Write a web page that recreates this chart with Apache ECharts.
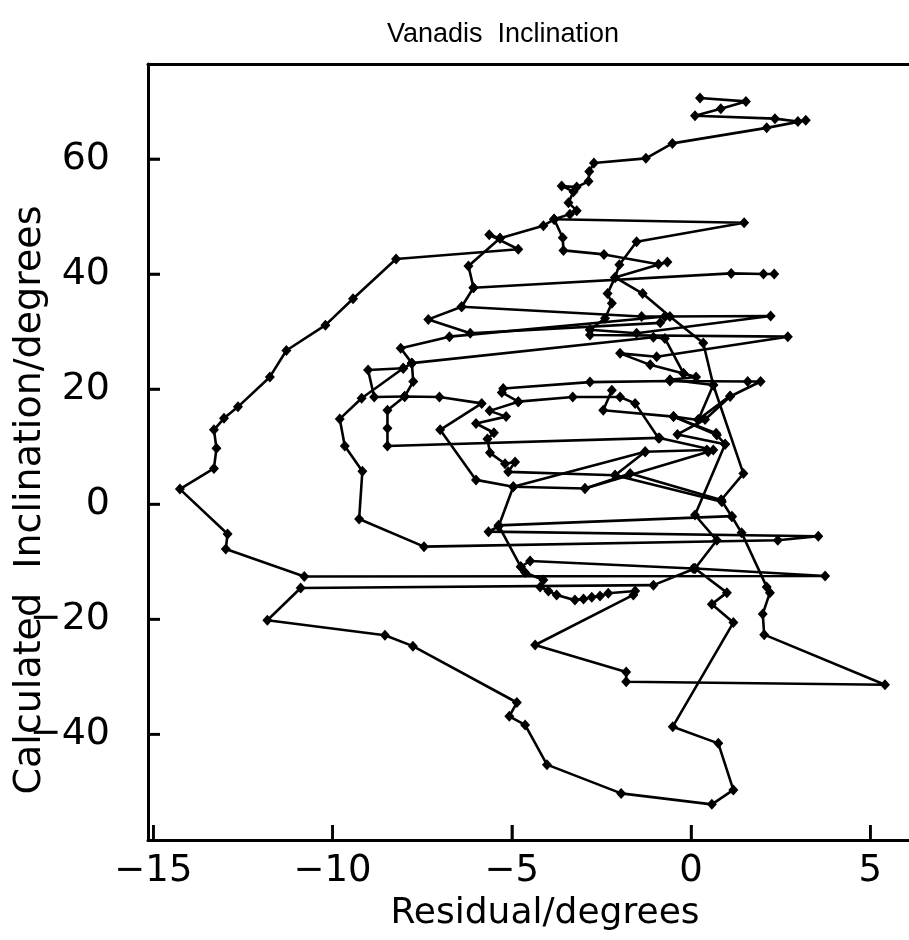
<!DOCTYPE html>
<html><head><meta charset="utf-8">
<script src="https://cdn.jsdelivr.net/npm/echarts@6/dist/echarts.min.js"></script>
<style>html,body{margin:0;padding:0;background:#fff}#c{width:909px;height:940px}</style>
</head><body><div id="c"></div>
<script>
const xTicks=[-15,-10,-5,0,5];
const yTicks=[-40,-20,0,20,40,60];

const chainTop=[[0.25,70.6],[1.53,70.0],[0.83,68.7],[0.11,67.5],[2.34,67.0],[2.98,66.5],[3.20,66.7],[2.11,65.4],[-0.52,62.7],[-1.26,60.1],[-2.71,59.3],[-2.84,57.8],[-2.86,56.1],[-3.19,55.1],[-3.61,55.3],[-3.28,54.3],[-3.42,52.4],[-3.19,51.0],[-3.38,50.4],[-3.82,49.5],[1.48,48.9],[-1.52,45.6],[-2.0,41.6],[-2.12,39.4],[-2.33,36.6],[-2.21,34.9],[-2.40,32.3],[-2.82,30.3],[-2.82,29.4],[2.70,29.1],[-0.96,25.6],[-1.98,26.2],[-1.14,24.2],[-0.21,22.7],[0.14,22.1],[-0.59,21.6],[0.62,20.7],[1.46,5.3],[0.84,0.7],[1.14,-2.2],[1.41,-5.0],[2.11,-14.4],[2.20,-15.4],[2.0,-19.1],[2.04,-22.7],[5.41,-31.4],[-1.81,-30.9],[-1.81,-29.2],[-4.35,-24.5],[-1.61,-15.8],[-1.56,-15.1],[-2.31,-15.5],[-2.54,-16.0],[-2.77,-16.2],[-3.0,-16.5],[-3.24,-16.7],[-3.75,-15.8],[-3.98,-15.1],[-4.21,-14.4],[-4.12,-13.2],[-4.63,-11.9],[-4.75,-10.9],[-4.49,-9.9],[0.06,-11.2]];
const chainArc=[[-4.75,-10.9],[-5.37,-3.7],[1.14,-2.1]];
const chainLeft=[[-3.82,49.5],[-4.12,48.4],[-5.33,46.2],[-5.63,46.8],[-4.82,44.3],[-8.23,42.6],[-9.43,35.7],[-10.2,31.1],[-11.29,26.7],[-11.75,22.1],[-12.64,16.9],[-13.03,14.9],[-13.31,12.9],[-13.24,9.7],[-13.31,6.2],[-14.26,2.6],[-12.93,-5.2],[-12.98,-7.8],[-10.79,-12.6],[3.74,-12.5],[0.11,-11.2],[-1.05,-14.1],[-10.89,-14.6],[-11.82,-20.2],[-8.54,-22.8],[-7.76,-24.7],[-4.86,-34.5],[-5.07,-36.9],[-4.63,-38.4],[-4.02,-45.3],[-1.95,-50.3],[0.58,-52.2],[1.18,-49.7],[0.76,-41.6],[-0.51,-38.7],[1.18,-20.6],[0.58,-17.4],[1.0,-15.4],[0.11,-11.2],[0.72,-6.3],[0.11,-1.9],[0.95,10.4],[-0.38,12.1],[0.39,14.7],[1.09,18.7],[1.94,21.3],[1.58,21.3],[-0.59,21.4],[-2.82,21.2],[-5.24,20.1],[-5.28,19.4],[-4.82,17.8],[-3.30,18.6],[-1.98,18.6],[-1.56,17.5],[-0.91,11.5],[-8.47,10.1],[-8.47,13.2],[-8.47,16.3],[-7.99,18.7],[-7.02,18.6],[-5.84,17.5],[-7.0,12.9],[-6.0,4.2],[-4.96,3.0],[-2.96,2.7],[0.48,9.1],[0.62,9.4],[-0.88,11.5]];
const chainMid=[[-3.82,49.5],[-3.58,46.3],[-3.56,44.1],[-2.43,43.4],[-0.91,41.7],[-0.66,42.1],[-2.12,39.4],[-1.35,36.6],[-0.59,32.6],[0.34,28.0],[0.62,20.7],[0.20,14.6],[-0.49,15.2],[0.72,12.0],[0.95,10.4]];
const chainH40=[[-5.33,46.2],[-6.21,41.4],[-6.07,37.6],[1.12,40.1],[2.02,40.0],[2.32,40.0]];
const chainH33=[[-6.07,37.6],[-6.40,34.3],[-1.38,32.6],[-0.73,32.6],[2.22,32.7],[-1.52,29.7],[-2.82,30.3]];
const chainF=[[-6.40,34.3],[-7.33,32.1],[-6.16,29.7],[-0.86,31.5]];
const chainG=[[-0.73,32.6],[-6.74,29.1],[-8.10,27.1],[-7.79,24.5],[-1.05,29.0],[-0.73,28.8],[-0.21,22.7]];
const chainH=[[-7.79,24.5],[-8.03,23.6],[-9.01,23.3],[-8.84,18.6],[-7.99,18.7]];
const chainH2=[[-7.79,24.5],[-7.75,21.3],[-7.99,18.7]];
const chainI=[[-8.03,23.6],[-9.19,18.4],[-9.80,14.8],[-9.66,10.1],[-9.17,5.7],[-9.26,-2.6],[-7.45,-7.4],[2.42,-6.3],[3.55,-5.6],[-5.65,-4.8],[-5.37,-3.9],[-4.96,3.0],[-1.28,9.1]];
const chainJ=[[-4.82,17.8],[-5.62,16.2],[-5.16,15.2],[-6.0,14.0],[-5.50,12.4],[-5.68,11.3],[-5.61,8.9],[-5.19,7.0],[-4.91,7.3],[-5.10,5.6],[-2.12,5.0],[0.86,0.4]];
const chainL=[[-2.21,19.8],[-2.45,16.3],[-0.49,15.2],[0.70,12.3]];
const chainM=[[1.09,18.8],[0.20,14.7]];
const chainO=[[-2.96,2.7],[-1.70,5.3],[0.84,0.7]];
const chainP=[[-2.12,5.0],[-1.28,9.1],[0.44,9.4]];

const chains=[chainTop,chainArc,chainLeft,chainMid,chainH40,chainH33,chainF,chainG,chainH,chainH2,chainI,chainJ,chainL,chainM,chainO,chainP];

const minus=v=>String(v).replace('-','\u2212');
const FONT='"DejaVu Sans", sans-serif';
const X_MIN=-15.15, X_MAX=6.08, Y_MIN=-58.4, Y_MAX=76.5;

const chart=echarts.init(document.getElementById('c'));
const textGraphics=[
  {id:'title',type:'text',x:503,y:35,style:{text:'Vanadis  Inclination',font:'27px "Liberation Sans", sans-serif',fill:'#000',textAlign:'center',textVerticalAlign:'middle',align:'center',verticalAlign:'middle'}},
  {id:'xname',type:'text',x:545,y:914,style:{text:'Residual/degrees',font:'36px '+FONT,fill:'#000',textAlign:'center',textVerticalAlign:'middle',align:'center',verticalAlign:'middle'}},
  {id:'yname',type:'text',x:30,y:500,rotation:Math.PI/2,style:{text:'Calculated  Inclination/degrees',font:'38px '+FONT,fill:'#000',textAlign:'center',textVerticalAlign:'middle',align:'center',verticalAlign:'middle'}}
];
chart.setOption({
  animation:false,
  backgroundColor:'#fff',
  grid:{left:148,top:64,right:0,bottom:100,show:false},
  xAxis:[
    {type:'value',min:X_MIN,max:X_MAX,position:'bottom',
     axisLine:{show:true,onZero:false,lineStyle:{color:'#000',width:3}},splitLine:{show:false},
     axisTick:{show:true,inside:true,length:15,customValues:xTicks,lineStyle:{color:'#000',width:2.5}},
     axisLabel:{customValues:xTicks,formatter:minus,fontFamily:FONT,fontSize:37,color:'#000',margin:13}},
    {type:'value',min:X_MIN,max:X_MAX,position:'top',
     axisLine:{show:true,onZero:false,lineStyle:{color:'#000',width:3}},splitLine:{show:false},
     axisTick:{show:false},axisLabel:{show:false}}
  ],
  yAxis:{type:'value',min:Y_MIN,max:Y_MAX,
    axisLine:{show:true,onZero:false,lineStyle:{color:'#000',width:3}},splitLine:{show:false},
    axisTick:{show:true,inside:true,length:12,customValues:yTicks,lineStyle:{color:'#000',width:2.5}},
    axisLabel:{customValues:yTicks,formatter:minus,fontFamily:FONT,fontSize:38,color:'#000',margin:38}},
  graphic:textGraphics,
  series:chains.map(c=>({type:'line',xAxisIndex:0,data:c,symbol:'diamond',symbolSize:[10,11],showSymbol:true,
    lineStyle:{color:'#000',width:2.6},itemStyle:{color:'#000'},clip:true,silent:true}))
});
// tick marks placed through the chart's own scales
try{
  const finder={xAxisIndex:0,yAxisIndex:0};
  const tickGraphics=[];
  xTicks.forEach((v,i)=>{
    const p=chart.convertToPixel(finder,[v,Y_MIN]);
    if(p) tickGraphics.push({id:'xt'+i,type:'line',z:100,shape:{x1:p[0],y1:p[1],x2:p[0],y2:p[1]-15},style:{stroke:'#000',lineWidth:2.5}});
  });
  yTicks.forEach((v,i)=>{
    const p=chart.convertToPixel(finder,[X_MIN,v]);
    if(p) tickGraphics.push({id:'yt'+i,type:'line',z:100,shape:{x1:p[0],y1:p[1],x2:p[0]+12,y2:p[1]},style:{stroke:'#000',lineWidth:2.5}});
  });
  chart.setOption({graphic:textGraphics.concat(tickGraphics)});
}catch(e){}
</script></body></html>
